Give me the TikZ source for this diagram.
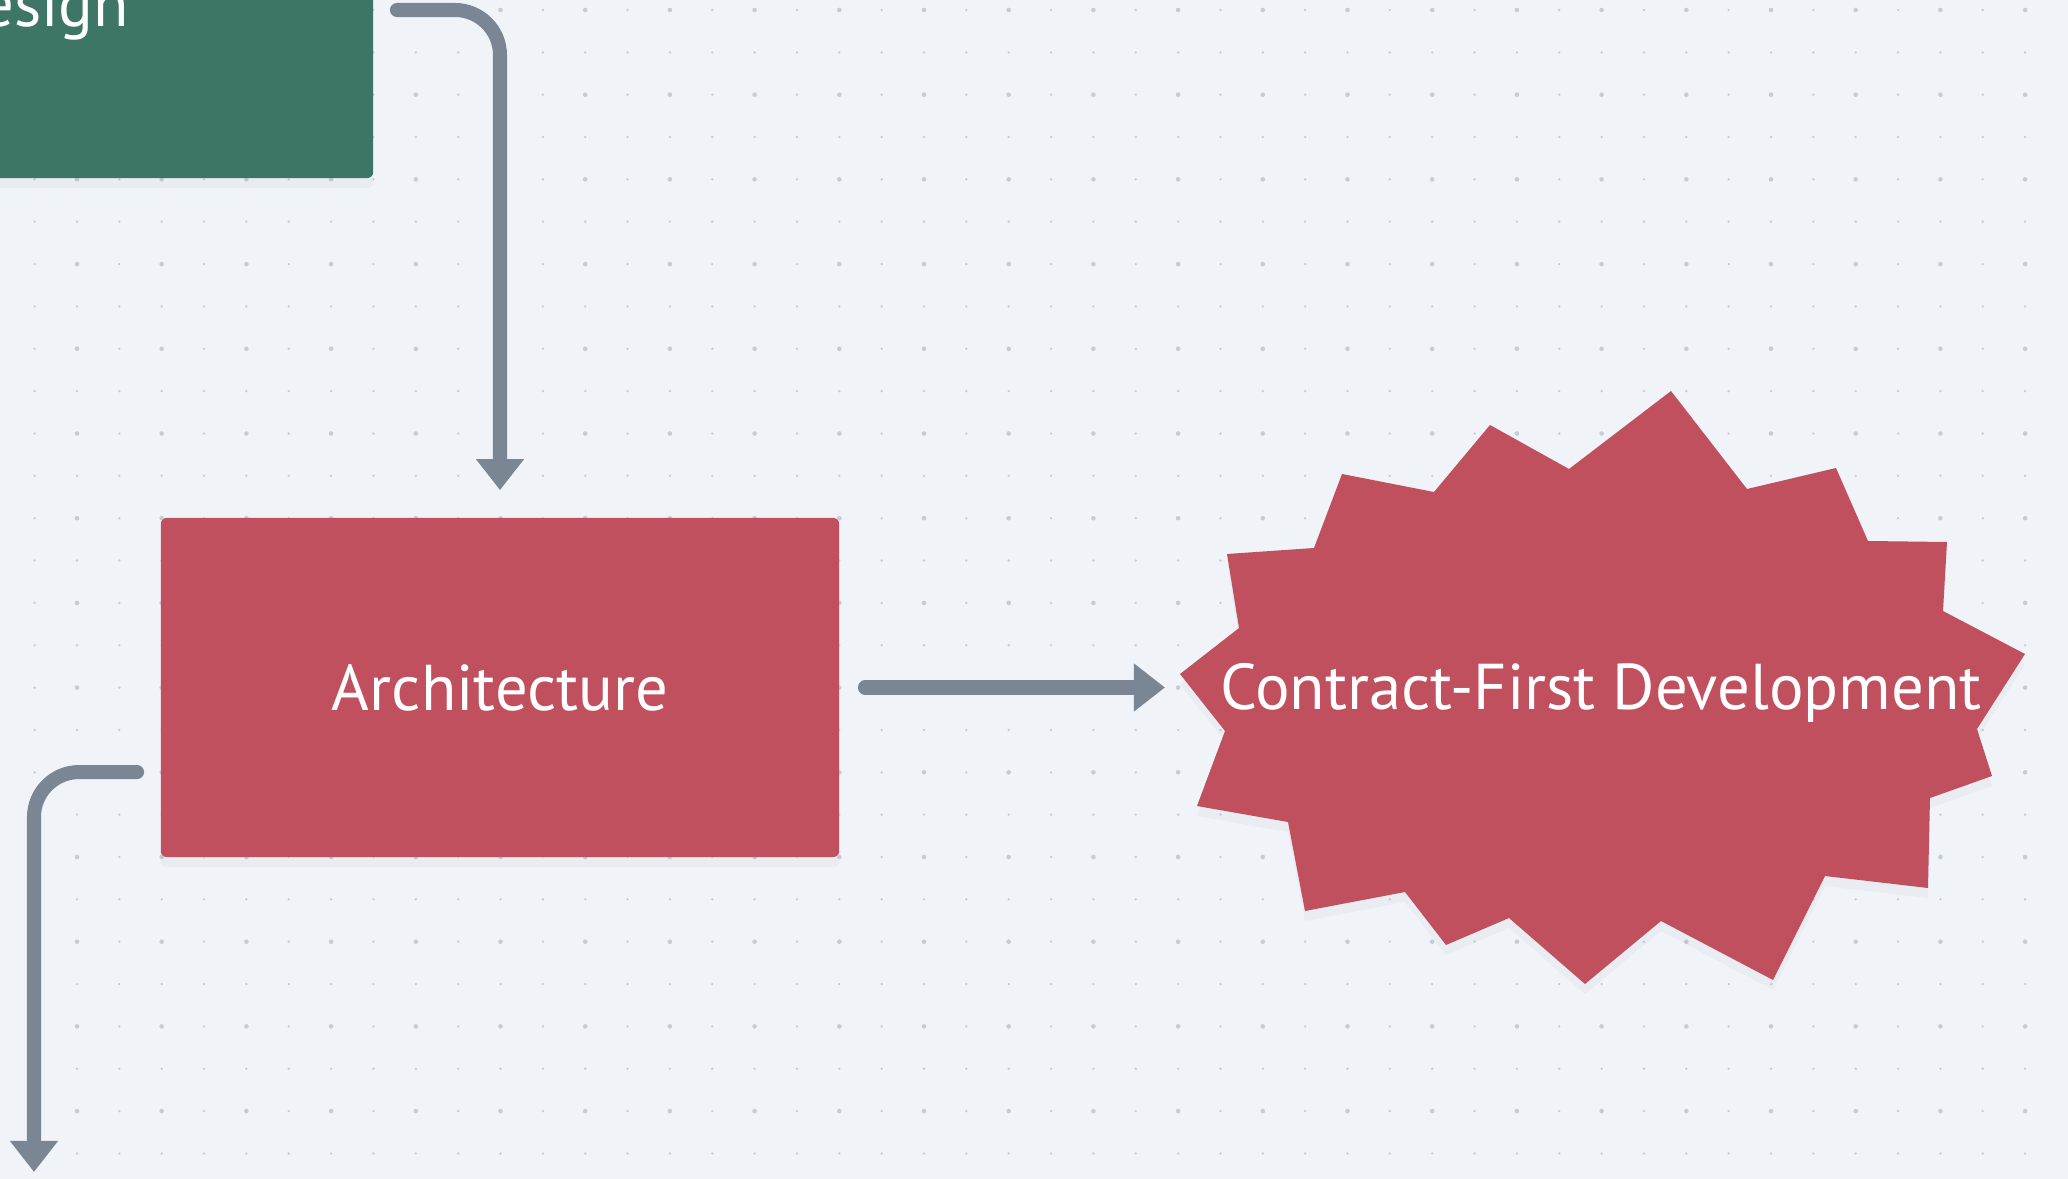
\documentclass[tikz,border=0pt]{standalone}
\usepackage{fontspec}
\setmainfont{PT Sans}
\usepackage{tikz}
\usetikzlibrary{arrows.meta,positioning,calc,shadows}
\definecolor{canvas}{RGB}{240,243,247}
\definecolor{griddot}{RGB}{198,204,213}
\definecolor{winered}{RGB}{193,80,94}
\definecolor{pine}{RGB}{61,118,103}
\definecolor{slate}{RGB}{123,134,149}
\tikzstyle{Rbox}=[shape=rectangle,rounded corners=0.06cm,fill=winered,text=white,minimum width=6.78cm,minimum height=3.39cm,drop shadow={opacity=0.06,shadow xshift=0cm,shadow yshift=-0.1cm}]
\tikzstyle{Gbox}=[Rbox,fill=pine,minimum width=6.78cm,minimum height=3.36cm]
\tikzstyle{flowedge}=[-{Triangle[width=0.46cm,length=0.31cm]},slate,line width=0.14cm,line cap=round]
\tikzstyle{label}=[font=\fontsize{18.4}{22}\selectfont]
\begin{document}
\begin{tikzpicture}[x=0.01cm,y=-0.01cm]

 % canvas and dot grid
 \fill[canvas] (0,0) rectangle (2068,1179);
 \useasboundingbox (0,0) rectangle (2068,1179);
 \clip (0,0) rectangle (2068,1179);
 \foreach \i in {-1,...,46}
  \foreach \j in {-20,...,7}
   \fill[griddot] (77+\i*42.35,857+\j*42.35) circle (0.013cm);
 \foreach \i in {0,2,...,46}
  \foreach \j in {-20,-18,...,6}
   \fill[griddot] (77+\i*42.35,857+\j*42.35) circle (0.023cm);

 % boxes
\node[Gbox,label] (DESIGN) at (34,10){Design};

\node[Rbox,label] (ARCH) at (500,687.5){Architecture};

 % starburst
\fill[winered,drop shadow={opacity=0.06,shadow xshift=0cm,shadow yshift=-0.1cm}]
 (1671,391) -- (1747,489) -- (1836,468) -- (1868,541) -- (1947,542) -- (1943,611)
 -- (2025,654) -- (1977,729) -- (1992,776) -- (1930,798) -- (1928,888) -- (1825,876)
 -- (1773,980) -- (1661,921) -- (1585,984) -- (1509,918) -- (1446,945) -- (1405,892)
 -- (1305,911) -- (1288,822) -- (1197,806) -- (1225,731) -- (1180,674) -- (1239,628)
 -- (1227,554) -- (1314,548) -- (1342,474) -- (1434,492) -- (1490,425) -- (1569,469) -- cycle;
\coordinate (BURSTW) at (1180,674);
\node[label,text=white] (CFD) at (1601,693){Contract-First Development};

\coordinate (NEXT) at (34,1172);

 % connectors
\draw[flowedge] ([xshift=0.23cm]DESIGN.east) [rounded corners=0.45cm] -| ([yshift=0.27cm]ARCH.north) [sharp corners];
\draw[flowedge] ([xshift=0.25cm]ARCH.east) -- ([xshift=-0.15cm]BURSTW |- ARCH.east);
\draw[flowedge] ([xshift=-0.23cm,yshift=-0.845cm]ARCH.west) [rounded corners=0.45cm] -| (NEXT) [sharp corners];

\end{tikzpicture}
\end{document}
